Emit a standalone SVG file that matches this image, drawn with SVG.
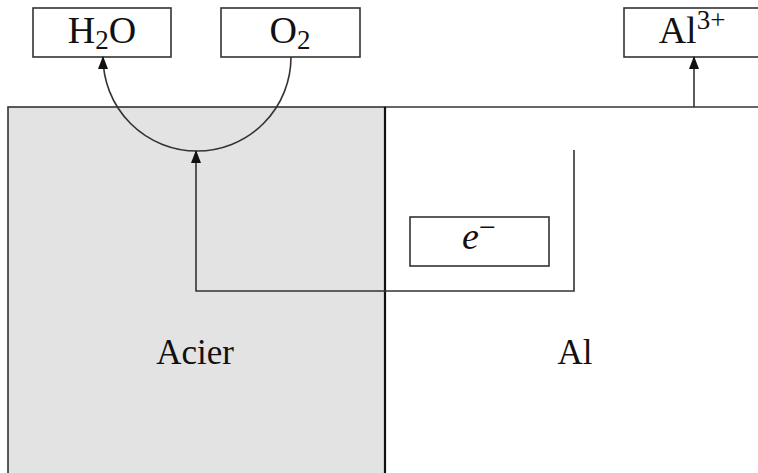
<svg xmlns="http://www.w3.org/2000/svg" width="758" height="473" viewBox="0 0 758 473">
<style>
.box{fill:#fff;stroke:#333;stroke-width:1.6}
.ln{fill:none;stroke:#333;stroke-width:1.6}
.t{font-family:"Liberation Serif",serif;font-size:35px;fill:#111;text-anchor:middle}
.bt{font-size:38px}
</style>
<defs>
<marker id="ah" viewBox="0 0 13 10" refX="12" refY="5" markerWidth="13" markerHeight="10" markerUnits="userSpaceOnUse" orient="auto">
<path d="M0,0 L13,5 L0,10 z" fill="#111"/>
</marker>
</defs>
<rect width="758" height="473" fill="#fff"/>
<g id="acier">
<rect x="8" y="107" width="377" height="370" fill="#e3e3e3" stroke="#333" stroke-width="1.6"/>
<text class="t" x="195" y="364">Acier</text>
</g>
<g id="al">
<path class="ln" d="M385,107 H758"/>
<path d="M385,107 V473" stroke="#111" stroke-width="2.2"/>
<text class="t" x="575" y="364">Al</text>
</g>
<g id="h2o">
<rect class="box" x="33" y="8" width="138" height="49"/>
<text class="t bt" x="102" y="43">H<tspan font-size="27" dy="6">2</tspan><tspan dy="-6">O</tspan></text>
</g>
<g id="o2">
<rect class="box" x="221" y="8" width="139" height="49"/>
<text class="t bt" x="290" y="43">O<tspan font-size="27" dy="6">2</tspan></text>
</g>
<g id="al3">
<rect class="box" x="624" y="8" width="140" height="49"/>
<text class="t bt" x="692" y="43">Al<tspan font-size="27" dy="-14">3+</tspan></text>
</g>
<g id="electron">
<rect class="box" x="410" y="217" width="139" height="49"/>
<text class="t bt" x="479" y="249"><tspan font-style="italic">e</tspan><tspan font-size="30" dy="-12">−</tspan></text>
</g>
<g id="connectors">
<path class="ln" d="M291,57 A94,94 0 0 1 103,57" marker-end="url(#ah)"/>
<path class="ln" d="M574,150 V291 H196 V151" marker-end="url(#ah)"/>
<path class="ln" d="M694,107 V57" marker-end="url(#ah)"/>
</g>
</svg>
